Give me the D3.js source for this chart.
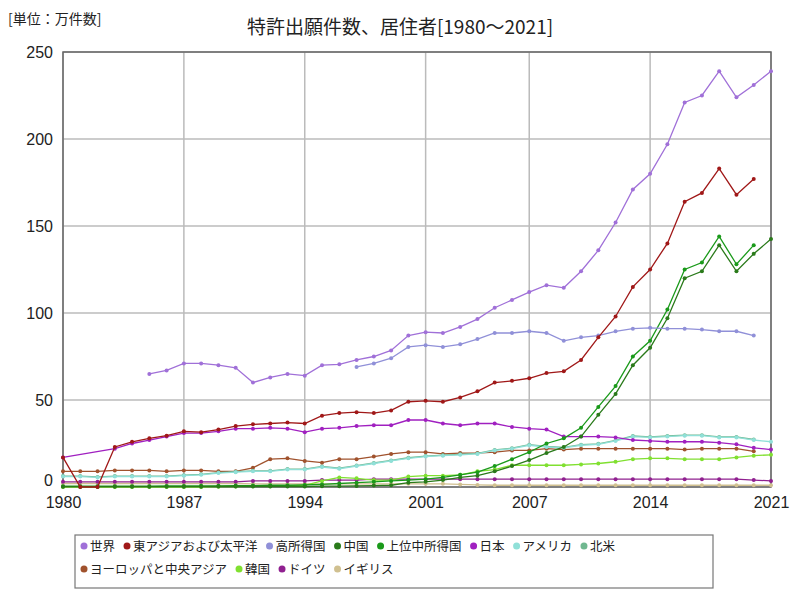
<!DOCTYPE html><html><head><meta charset="utf-8"><script src="https://cdn.jsdelivr.net/npm/d3@7"></script>
<style>body{margin:0;background:#fff;font-family:"Noto Sans CJK JP",sans-serif}</style></head><body><svg id="c" width="800" height="600"></svg><script>
const years=d3.range(1980,2022);
const xTicks=[1980,1987,1994,2001,2007,2014,2021];
const yTicks=[0,50,100,150,200,250];
const N=null;
const world=[N,N,N,N,N,65,67,71,71,70,68.5,60,63,65,64,70,70.5,73,75,78.5,87,89,88.5,92,96.5,103,107.5,112,116,114.5,124,136,152,171,180,197,221,225,239,224,231,239];
const eastAsia=[17,0,0,23,26,28,29.5,32,31.5,33,35,36,36.5,37,36.5,41,42.5,43,42.5,44,49,49.5,49,51.5,55,60,61,62.5,65.5,66.5,73,86,98,115,125,140,164,169,183,168,177,N];
const highInc=[N,N,N,N,N,N,N,N,N,N,N,N,N,N,N,N,N,69,71,74,80.5,81.5,80.5,82,85,88.5,88.5,89.5,88.5,84,86,87,89.5,91,91.5,91,91,90.5,89.5,89.5,87,N];
const china=[0.2,0.2,0.2,0.2,0.2,0.2,0.2,0.2,0.2,0.3,0.3,0.3,0.3,0.3,0.3,0.5,0.5,0.6,0.8,1,2.5,3,4,5.5,6.5,9,12,15.5,19.5,23,29,41.5,53.5,70,80,97,120,124,139,124,134,142.5];
const upperMid=[0.5,0.5,0.5,0.5,0.5,0.5,0.6,0.6,0.7,0.7,0.8,0.8,1,1,1.2,1.5,2,2.5,3,3.5,4,4.5,5.5,7,8.5,12,16,20,25,28,34,46,58,75,84,102,125,129,144,128,139,N];
const japan=[17,N,N,22,25,27,29,31,31,32,33.5,33.5,34,33.5,31.5,33.5,34,35,35.5,35.5,38.5,38.5,36.5,35.5,36.5,36.5,34.5,33.5,33,29,29,29,28.5,27,26.5,26,26,26,25.5,24.5,22.5,21.5];
const usa=[6,6,5.5,6,6,6,6,6.5,7,8,8.5,9,9,10,10,11.5,10.5,12,13.5,15,16.5,17.5,18,18.5,19,21,22,24,23,22.5,24,24.5,26.5,29,28.5,29,29.5,29.5,28.5,28.5,27,26];
const northAm=[6.3,6.3,5.8,6.3,6.3,6.3,6.3,6.8,7.3,8.3,8.8,9.3,9.3,10.3,10.3,11.8,10.8,12.3,13.8,15.3,16.8,17.8,18.3,18.8,19.3,21.3,22.3,24.3,23.3,22.8,24.3,24.8,26.8,29.3,28.8,29.3,29.8,29.8,28.8,28.8,27.3,N];
const europe=[9,9,9,9.5,9.5,9.5,9,9.5,9.5,9,9,11,16,16.5,15,14,16,16,17.5,19,20,20,19,19.5,19.5,20,21,21,22,21.5,22,22,22,22,22,22,21.5,22,22,22,20.5,N];
const korea=[0,0,0,0,0,0,0,0,0,0.2,0.3,0.5,0.5,0.7,1,3.5,5.5,5,4,4,6,6.5,6.5,7,9,10,12.5,12.5,12.5,12.5,13,13.5,14.5,16,16.5,16.5,16,16,16,17,18,18.5];
const germany=[3,3,3,3,3,3,3,3,3,3,3,3.5,3.5,3.5,3.5,4,4,4,4.5,4.5,4.5,4.5,4.5,4.5,4.5,4.5,4.5,4.5,4.5,4.5,4.5,4.5,4.5,4.5,4.5,4.5,4.5,4.5,4.5,4.5,4,3.5];
const uk=[2,2,2,2,2,2,2,2,2,2,2,1.8,1.8,1.8,1.8,1.8,1.8,1.8,1.8,1.8,1.8,1.8,1.8,1.5,1.2,1,1,1,1,1,1,1,1,1,1,1,1,1,1,1,1,1];
const series=[
["世界",world,"#a070d8"],["東アジアおよび太平洋",eastAsia,"#a01818"],["高所得国",highInc,"#9090d8"],["中国",china,"#2a7a1a"],["上位中所得国",upperMid,"#1a9a1a"],["日本",japan,"#a020c0"],["アメリカ",usa,"#90e0d8"],["北米",northAm,"#70b890"],["ヨーロッパと中央アジア",europe,"#a0522d"],["韓国",korea,"#80e030"],["ドイツ",germany,"#902090"],["イギリス",uk,"#d0c090"]];
const svg=d3.select("#c");
const x=d3.scaleLinear().domain([1980,2021]).range([63,771]);
const y=d3.scaleLinear().domain([0,250]).range([487,52]);
svg.append("g").selectAll("line").data(yTicks).join("line").attr("x1",63).attr("x2",771).attr("y1",d=>y(d)).attr("y2",d=>y(d)).attr("stroke","#bbb").attr("stroke-width",1.5);
svg.append("g").selectAll("line").data(xTicks).join("line").attr("y1",52).attr("y2",487).attr("x1",d=>x(d)).attr("x2",d=>x(d)).attr("stroke","#bbb").attr("stroke-width",1.5);
svg.append("rect").attr("x",63).attr("y",52).attr("width",708).attr("height",435).attr("fill","none").attr("stroke","#666").attr("stroke-width",1.5);
const ya=svg.append("g").attr("transform","translate(63,0)").call(d3.axisLeft(y).tickValues(yTicks).tickSize(0).tickPadding(10));
const xa=svg.append("g").attr("transform","translate(0,489)").call(d3.axisBottom(x).tickValues(xTicks).tickFormat(d3.format("d")).tickSize(0).tickPadding(8));
[ya,xa].forEach(a=>{a.select(".domain").remove();a.selectAll("text").attr("font-size",16).attr("fill","#222").attr("font-family","Liberation Sans Narrow,Liberation Sans,sans-serif");});
ya.selectAll("text").filter(d=>d===0).attr("dy","-0.1em");
const line=d3.line().defined(d=>d[1]!=null).x(d=>x(d[0])).y(d=>y(d[1]));
series.slice().reverse().forEach(([n,v,c])=>{
 const pts=years.map((yr,i)=>[yr,v[i]]);
 const def=pts.filter(p=>p[1]!=null);
 svg.append("path").attr("d",line(def)).attr("fill","none").attr("stroke",c).attr("stroke-width",1.3);
 svg.append("g").selectAll("circle").data(def).join("circle").attr("cx",d=>x(d[0])).attr("cy",d=>y(d[1])).attr("r",2).attr("fill",c);
});
svg.append("text").attr("x",400).attr("y",34).attr("text-anchor","middle").attr("font-size",19).attr("fill","#222").text("特許出願件数、居住者[1980～2021]");
svg.append("text").attr("x",8).attr("y",24).attr("font-size",14).attr("fill","#222").text("[単位：万件数]");
svg.append("rect").attr("x",75).attr("y",535).attr("width",638).attr("height",53).attr("fill","#fff").attr("stroke","#777").attr("stroke-width",1.2);
const rows=[[series.slice(0,8),551],[series.slice(8),574]];
rows.forEach(([r,yy])=>{let cx=82;r.forEach(s=>{
 svg.append("circle").attr("cx",cx+2).attr("cy",yy-5).attr("r",3.5).attr("fill",s[2]);
 const t=svg.append("text").attr("x",cx+8).attr("y",yy).attr("font-size",12.5).attr("fill","#222").text(s[0]);
 cx+=8+t.node().getComputedTextLength()+10;
});});
</script></body></html>
